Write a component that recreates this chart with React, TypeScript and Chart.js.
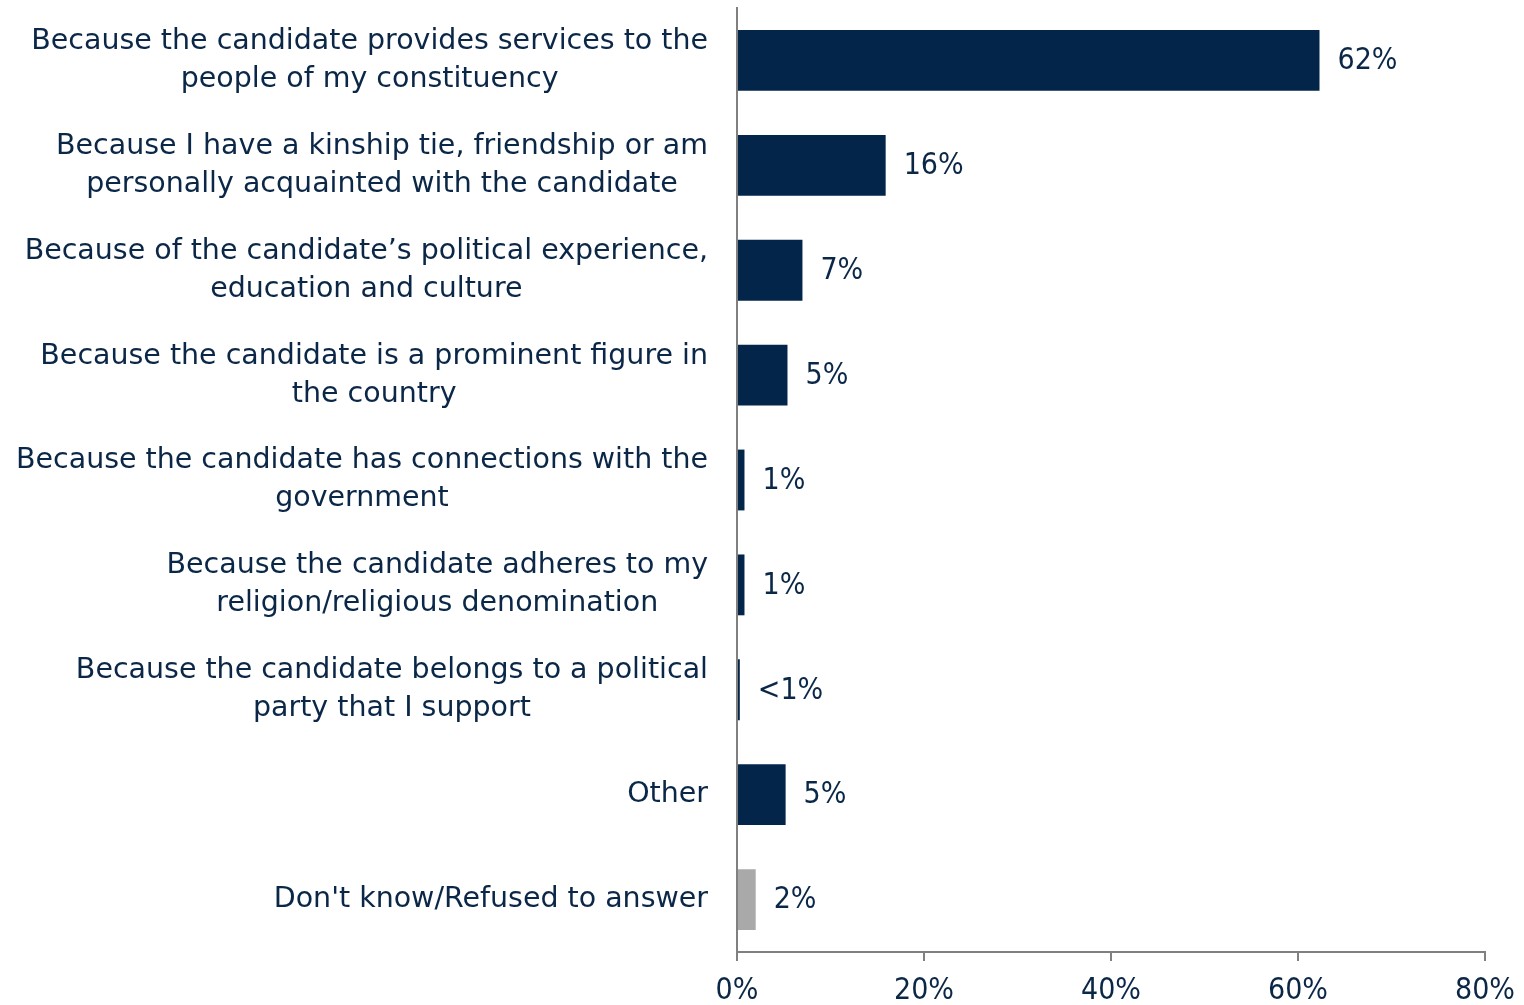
import React, { useEffect, useRef } from "react";
import { Chart, registerables } from "chart.js";

Chart.register(...registerables);

const categories: string[][] = [
  ["Because the candidate provides services to the", "people of my constituency"],
  ["Because I have a kinship tie, friendship or am", "personally acquainted with the candidate"],
  ["Because of the candidate\u2019s political experience,", "education and culture"],
  ["Because the candidate is a prominent figure in", "the country"],
  ["Because the candidate has connections with the", "government"],
  ["Because the candidate adheres to my", "religion/religious denomination"],
  ["Because the candidate belongs to a political", "party that I support"],
  ["Other"],
  ["Don't know/Refused to answer"],
];
const values: number[] = [62.3, 15.9, 7.0, 5.4, 0.8, 0.8, 0.3, 5.2, 2.0];
const valueLabels: string[] = ["62%", "16%", "7%", "5%", "1%", "1%", "<1%", "5%", "2%"];
const barColors: string[] = ["#03254a", "#03254a", "#03254a", "#03254a", "#03254a", "#03254a", "#03254a", "#03254a", "#a9a9a9"];
const xTicks: number[] = [0, 20, 40, 60, 80];

const TEXT = "#0b2747";
const AXIS = "#808080";
const CAT_FAMILY = "'DejaVu Sans', sans-serif";
const NUM_FAMILY = "'DejaVu Sans Condensed', sans-serif";

export default function App() {
  const ref = useRef<HTMLCanvasElement | null>(null);
  useEffect(() => {
    if (!ref.current) return;
    const labelPlugin = {
      id: "customLabels",
      afterDraw(chart: any) {
        const ctx = chart.ctx;
        const y = chart.scales.y;
        ctx.save();
        ctx.fillStyle = TEXT;
        ctx.font = `20px ${CAT_FAMILY}`;
        const w20 = ctx.measureText(categories[0][0]).width;
        const size = Math.min(30, (20 * 677) / w20);
        ctx.font = `${size.toFixed(2)}px ${CAT_FAMILY}`;
        ctx.textAlign = "center";
        ctx.textBaseline = "middle";
        const right = chart.chartArea.left - 29;
        categories.forEach((lines, i) => {
          const cy = y.getPixelForValue(i);
          const w = Math.max(...lines.map((l) => ctx.measureText(l).width));
          const cx = right - w / 2;
          lines.forEach((l, j) => {
            ctx.fillText(l, cx, cy + (j - (lines.length - 1) / 2) * 38);
          });
        });
        ctx.font = `30px ${NUM_FAMILY}`;
        ctx.textAlign = "left";
        const meta = chart.getDatasetMeta(0);
        meta.data.forEach((bar: any, i: number) => {
          ctx.fillText(valueLabels[i], bar.x + 18, bar.y + 1);
        });
        ctx.restore();
      },
    };
    const chart = new Chart(ref.current, {
      type: "bar",
      data: {
        labels: categories.map((c) => c.join(" ")),
        datasets: [
          {
            data: values,
            backgroundColor: barColors,
            borderWidth: 0,
            barPercentage: 0.58,
            categoryPercentage: 1,
          },
        ],
      },
      options: {
        indexAxis: "y",
        animation: false,
        responsive: true,
        maintainAspectRatio: false,
        layout: { padding: { top: 8, right: 39, left: 0, bottom: 0 } },
        plugins: { legend: { display: false }, tooltip: { enabled: false } },
        scales: {
          x: {
            min: 0,
            max: 80,
            afterBuildTicks: (scale: any) => {
              scale.ticks = xTicks.map((v) => ({ value: v }));
            },
            afterFit: (scale: any) => {
              scale.height = 53;
              scale.paddingRight = 0;
              scale.paddingLeft = 0;
            },
            grid: {
              display: true,
              drawOnChartArea: false,
              drawTicks: true,
              tickLength: 9,
              color: AXIS,
              lineWidth: 2,
            },
            border: { display: true, color: AXIS, width: 2 },
            ticks: {
              color: TEXT,
              padding: 12,
              maxRotation: 0,
              font: { family: NUM_FAMILY, size: 30 },
              callback: (v: any) => `${v}%`,
            },
          },
          y: {
            type: "category",
            grid: { display: false },
            border: { display: true, color: AXIS, width: 2 },
            ticks: { display: false },
            afterFit: (scale: any) => {
              scale.width = 737;
            },
          },
        },
      },
      plugins: [labelPlugin],
    } as any);
    return () => chart.destroy();
  }, []);
  return (
    <div style={{ position: "fixed", left: 0, top: 0, width: 1524, height: 1005, background: "#fff" }}>
      <canvas ref={ref} />
    </div>
  );
}
